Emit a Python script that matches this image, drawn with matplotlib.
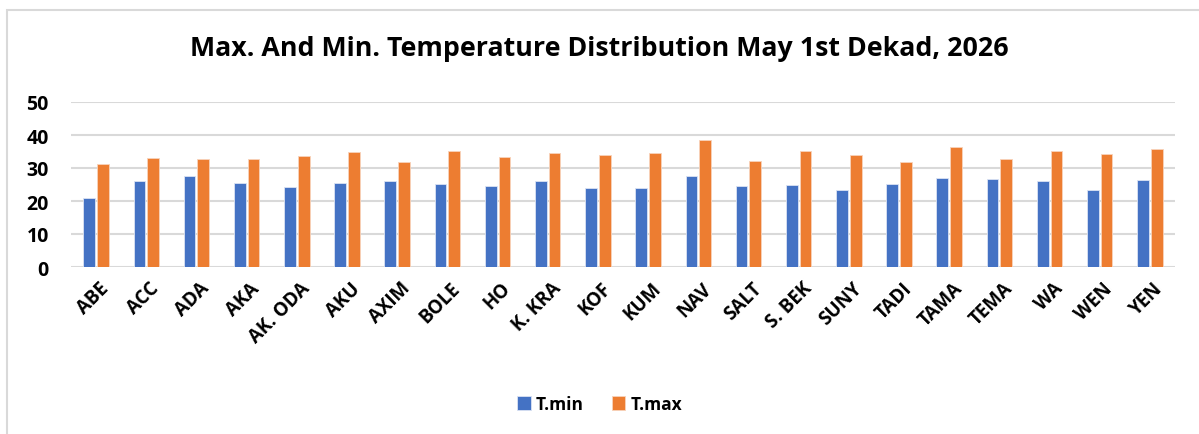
import numpy as np
import matplotlib
matplotlib.use("Agg", force=True)
import matplotlib.pyplot as plt
from matplotlib.patches import Rectangle
from matplotlib.transforms import ScaledTranslation

stations = ["ABE", "ACC", "ADA", "AKA", "AK. ODA", "AKU", "AXIM", "BOLE", "HO", "K. KRA", "KOF",
            "KUM", "NAV", "SALT", "S. BEK", "SUNY", "TADI", "TAMA", "TEMA", "WA", "WEN", "YEN"]
t_min = [20.9, 26.0, 27.5, 25.4, 24.1, 25.4, 26.0, 25.1, 24.5, 26.0, 23.8,
         23.8, 27.5, 24.5, 24.7, 23.4, 25.2, 26.9, 26.7, 26.0, 23.4, 26.4]
t_max = [31.1, 33.0, 32.6, 32.8, 33.7, 34.8, 31.8, 35.3, 33.4, 34.6, 33.8,
         34.6, 38.6, 32.1, 35.1, 33.8, 31.8, 36.3, 32.6, 35.3, 34.3, 35.9]
y_ticks = [0, 10, 20, 30, 40, 50]

plt.rcParams["font.family"] = ["Open Sans", "DejaVu Sans"]

W, H = 1199, 435
fig = plt.figure(figsize=(W / 100, H / 100), dpi=100)
ax = fig.add_axes([71 / W, 1 - 268 / H, (1175 - 71) / W, (268 - 103) / H])

x = np.arange(len(stations))
bw = 0.233
ax.bar(x - 0.137, t_min, bw, color="#4472C4", edgecolor="#dbe3f3", linewidth=0.6, label="T.min", zorder=3)
ax.bar(x + 0.137, t_max, bw, color="#ED7D31", edgecolor="#f8d3bb", linewidth=0.6, label="T.max", zorder=3)

ax.set_xlim(-0.5, len(stations) - 0.5)
ax.set_ylim(0, 50)
ax.set_yticks(y_ticks)
ax.set_yticklabels([str(v) for v in y_ticks], fontsize=14, fontweight="bold")
ax.grid(axis="y", color="#d9d9d9", linewidth=1.5, zorder=0)
ax.tick_params(axis="both", length=0)
ax.tick_params(axis="y", pad=16)
for s in ax.spines.values():
    s.set_visible(False)

ax.set_xticks(x)
ax.set_xticklabels(stations, rotation=45, ha="right", rotation_mode="anchor",
                   fontsize=13.5, fontweight="bold")
ax.tick_params(axis="x", pad=8)
shift = ScaledTranslation(3 / 100, 0, fig.dpi_scale_trans)
for lbl in ax.get_xticklabels():
    lbl.set_transform(lbl.get_transform() + shift)

fig.text(0.5, 1 - 49 / H, "Max. And Min. Temperature Distribution May 1st Dekad, 2026",
         ha="center", va="center", fontsize=19.3, fontweight="bold")

leg = fig.legend(loc="center", bbox_to_anchor=(0.5, 1 - 405 / H), ncol=2, frameon=False,
                 prop={"size": 12.5, "weight": "bold"}, handlelength=0.8, handleheight=0.8,
                 handletextpad=0.3, columnspacing=1.6)

fig.patches.append(Rectangle((7 / W, -0.1), 1.1, 1 - 11 / H + 0.1, transform=fig.transFigure,
                             fill=False, edgecolor="#d9d9d9", linewidth=1.5))

fig.savefig("out.png", dpi=100)
